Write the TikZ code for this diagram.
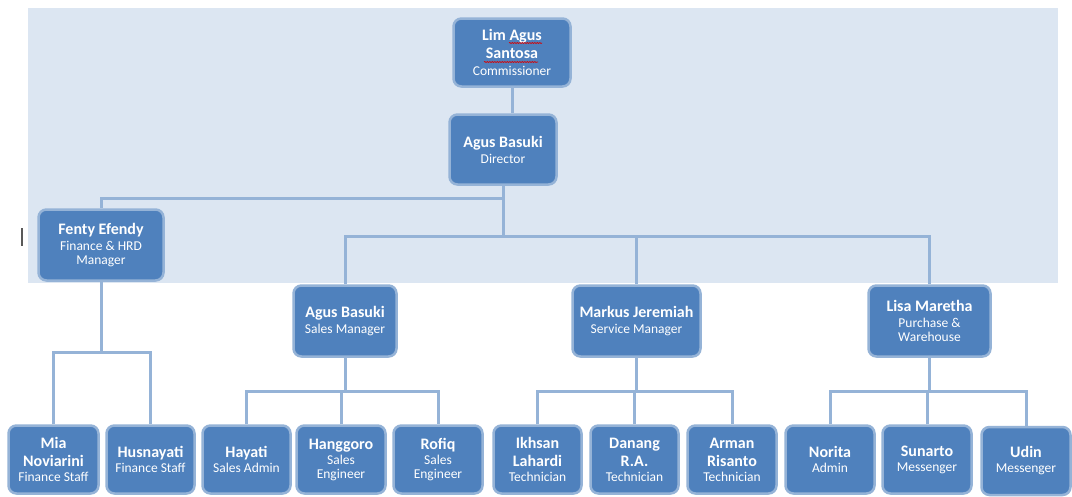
\documentclass[tikz,border=0pt]{standalone}
\usepackage{fontspec}
\setmainfont{Carlito}
\usetikzlibrary{decorations.pathmorphing}
\definecolor{boxfill}{HTML}{4F81BD}
\definecolor{boxedge}{HTML}{95B3D7}
\definecolor{linkc}{HTML}{95B3D7}
\definecolor{bgband}{HTML}{DCE6F2}
\newcommand{\nm}[1]{{\fontsize{16}{19}\bfseries\selectfont #1}}
\begin{document}
\begin{tikzpicture}[x=1pt,y=-1pt,
  person/.style={fill=boxfill, draw=boxedge, line width=2.5pt, rounded corners=8pt,
    text=white, align=center, inner sep=0pt, font=\fontsize{13.5}{14}\selectfont},
  mgr/.style={person, minimum height=71pt},
  staff/.style={person, minimum width=89pt, minimum height=68pt},
  link/.style={draw=linkc, line width=3pt},
  squig/.style={draw=red!85!black, line width=0.6pt, decorate, decoration={snake, amplitude=0.6pt, segment length=2.5pt}}]
\useasboundingbox (0,0) rectangle (1072,496);
\fill[white] (0,0) rectangle (1072,496);
\fill[bgband] (28,8) rectangle (1058,283);
\draw[black!65, line width=1.2pt] (22,228) -- (22,246);

% bus levels
\coordinate (b1) at (0,198);
\coordinate (b2) at (0,236);
\coordinate (b3) at (0,352);
\coordinate (b4) at (0,391);

\node[mgr, minimum width=117pt, minimum height=68pt] (lim) at (512,52.5) {\nm{Lim Agus}\\[4.5pt]\nm{Santosa}\\[3pt]Commissioner};
\node[mgr, minimum width=107pt, minimum height=70pt] (dir) at (503,149.5) {\nm{Agus Basuki}\\[2pt]Director};
\node[mgr, minimum width=125pt] (fenty) at (101,245) {\nm{Fenty Efendy}\\[2pt]Finance \& HRD\\Manager};
\node[mgr, minimum width=103pt] (sales) at (345,321) {\nm{Agus Basuki}\\[2pt]Sales Manager};
\node[mgr, minimum width=128pt] (markus) at (636.5,321) {\nm{Markus Jeremiah}\\[2pt]Service Manager};
\node[mgr, minimum width=122pt] (lisa) at (929.5,321) {\nm{Lisa Maretha}\\[2pt]Purchase \&\\Warehouse};

\node[staff, minimum width=90pt] (mia) at (53.5,459.5) {\nm{Mia}\\[4pt]\nm{Noviarini}\\[1pt]Finance Staff};
\node[staff, minimum width=88pt] (husn) at (150.5,459.5) {\nm{Husnayati}\\[1pt]Finance Staff};
\node[staff, minimum width=88pt] (hayati) at (246.5,459.5) {\nm{Hayati}\\[1pt]Sales Admin};
\node[staff] (hang) at (341,459.5) {\nm{Hanggoro}\\[1pt]Sales\\Engineer};
\node[staff] (rofiq) at (438,459.5) {\nm{Rofiq}\\[1pt]Sales\\Engineer};
\node[staff, minimum width=88pt] (ikhsan) at (537.5,459.5) {\nm{Ikhsan}\\[4pt]\nm{Lahardi}\\[1pt]Technician};
\node[staff, minimum width=88pt] (danang) at (634.5,459.5) {\nm{Danang}\\[4pt]\nm{R.A.}\\[1pt]Technician};
\node[staff] (arman) at (732,459.5) {\nm{Arman}\\[4pt]\nm{Risanto}\\[1pt]Technician};
\node[staff] (norita) at (830,459.5) {\nm{Norita}\\[1pt]Admin};
\node[staff] (sunarto) at (927,459.5) {\nm{Sunarto}\\[1pt]Messenger};
\node[staff] (udin) at (1026,461) {\nm{Udin}\\[1pt]Messenger};

% spell-check squiggles
\draw[squig] (509,43) -- (542,43);
\draw[squig] (484,62) -- (538,62);

% connectors
\path[link] (lim.south) -- (lim.south |- dir.north);
\path[link] (dir.south) -- (dir.south |- b2);
\path[link] (dir.south |- b1) -- (fenty.north |- b1) -- (fenty.north);
\path[link] (sales.north) -- (sales.north |- b2) -- (lisa.north |- b2) -- (lisa.north);
\path[link] (markus.north) -- (markus.north |- b2);

\path[link] (fenty.south) -- (fenty.south |- b3);
\path[link] (mia.north) -- (mia.north |- b3) -- (husn.north |- b3) -- (husn.north);

\path[link] (sales.south) -- (sales.south |- b4);
\path[link] (hayati.north) -- (hayati.north |- b4) -- (rofiq.north |- b4) -- (rofiq.north);
\path[link] (hang.north) -- (hang.north |- b4);

\path[link] (markus.south) -- (markus.south |- b4);
\path[link] (ikhsan.north) -- (ikhsan.north |- b4) -- (arman.north |- b4) -- (arman.north);
\path[link] (danang.north) -- (danang.north |- b4);

\path[link] (lisa.south) -- (lisa.south |- b4);
\path[link] (norita.north) -- (norita.north |- b4) -- (udin.north |- b4) -- (udin.north);
\path[link] (sunarto.north) -- (sunarto.north |- b4);
\end{tikzpicture}
\end{document}
